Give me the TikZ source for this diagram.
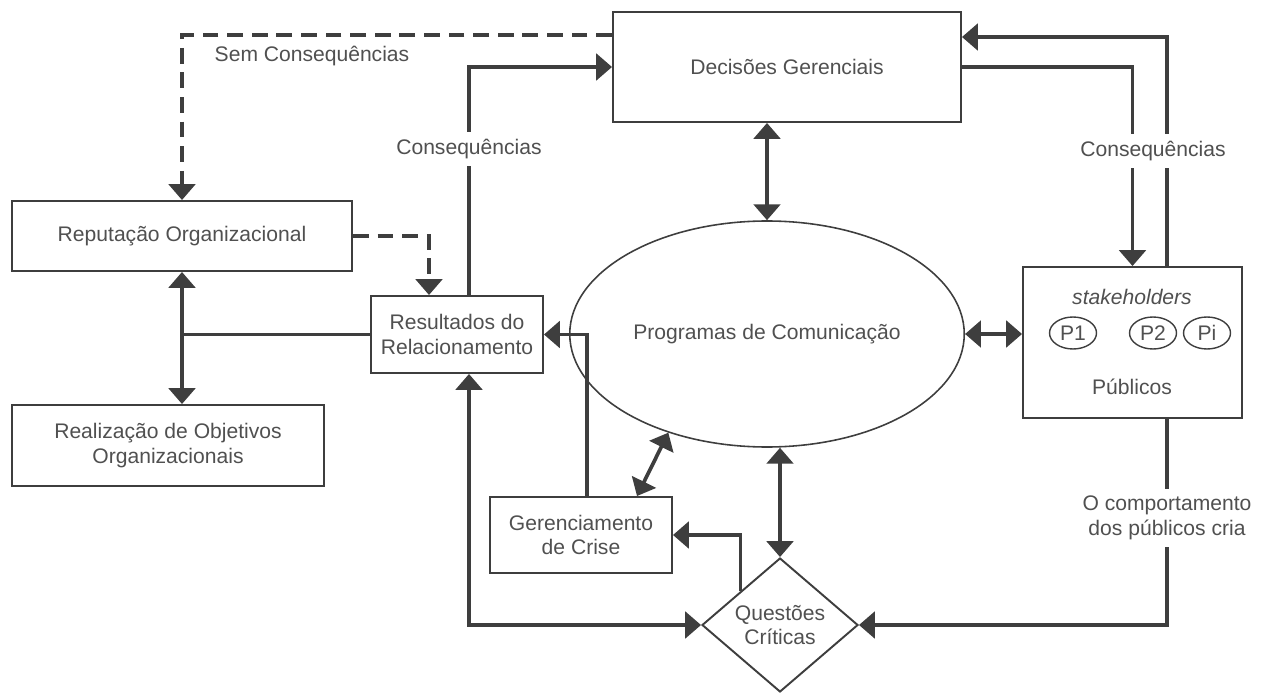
\documentclass[tikz,border=0pt]{standalone}
\usepackage{fontspec}
\setmainfont{Liberation Sans}
\usetikzlibrary{arrows.meta,positioning,calc,shapes.geometric}
\definecolor{Ink}{HTML}{3E3E3E}
\definecolor{Label}{HTML}{505050}

\begin{document}
\begin{tikzpicture}[font=\fontsize{12}{14}\selectfont, text=Label,
    box/.style={draw=Ink,line width=1.1pt,align=center,inner sep=2pt},
    pill/.style={draw=Ink,ellipse,line width=0.8pt,minimum width=0.94cm,minimum height=0.64cm,inner sep=0pt},
    link/.style={draw=Ink,line width=2.1pt},
    flow/.style={link,-{Triangle[width=15pt,length=9pt]}},
    twoway/.style={link,{Triangle[width=15pt,length=9pt]}-{Triangle[width=15pt,length=9pt]}},
    dashflow/.style={draw=Ink,line width=2pt,dash pattern=on 9pt off 5pt,-{Triangle[width=15pt,length=9pt]}},
    cut/.style={fill=white,inner sep=4pt,align=center}]

    \useasboundingbox (0,0) rectangle (25.26,-13.86);

    % boxes
    \node[box,minimum width=6.96cm,minimum height=2.20cm] (dec) at (15.74,-1.34) {Decisões Gerenciais};
    \node[box,minimum width=6.80cm,minimum height=1.40cm] (rep) at (3.64,-4.72) {Reputação Organizacional};
    \node[box,minimum width=6.24cm,minimum height=1.62cm] (real) at (3.36,-8.91) {Realização de Objetivos\\Organizacionais};
    \node[box,minimum width=3.44cm,minimum height=1.54cm] (res) at (9.14,-6.69) {Resultados do\\Relacionamento};
    \node[box,minimum width=3.64cm,minimum height=1.52cm] (ger) at (11.62,-10.70) {Gerenciamento\\de Crise};
    \node[draw=Ink,ellipse,line width=0.9pt,minimum width=6.74cm,minimum height=4.52cm] (prog) at (15.34,-6.68) {Programas de Comunicação};
    \node[draw=Ink,diamond,line width=1.1pt,align=center,inner sep=0pt,aspect=1.16,minimum width=3.12cm,minimum height=2.68cm] (qc) at (15.60,-12.50) {Questões\\Críticas};

    % publics
    \node[box,minimum width=4.38cm,minimum height=3.02cm] (pub) at (22.65,-6.85) {};
    \node (stake) at (22.64,-5.94) {\itshape stakeholders};
    \node[pill] (p1) at (21.46,-6.66) {P1};
    \node[pill] (p2) at (23.06,-6.66) {P2};
    \node[pill] (pi) at (24.14,-6.66) {Pi};
    \node (publ) at (22.64,-7.74) {Públicos};

    % dashed links
    \draw[dashflow] ([yshift=0.64cm]dec.west) -| (rep.north);
    \node (semcons) at (6.24,-1.12) {Sem Consequências};
    \draw[dashflow] (rep.east) -| ([xshift=-0.56cm]res.north);

    % top loop
    \draw[flow] ([xshift=0.24cm]res.north) |- node[cut,pos=0.32] (cons1) {Consequências} (dec.west);
    \draw[flow] (dec.east) -| (pub.north);
    \draw[flow] ([xshift=0.69cm]pub.north) |- ([yshift=0.60cm]dec.east);
    \node[cut] (cons2) at (23.06,-3.02) {Consequências};

    % around the ellipse
    \draw[twoway] (prog.north) -- (prog.north |- dec.south);
    \draw[twoway] (prog.east) -- (prog.east -| pub.west);
    \draw[twoway] ([xshift=1.12cm]ger.north) -- (prog.225);
    \draw[twoway] (qc.north) -- (qc.north |- prog.south);

    % results to reputation and objectives
    \coordinate (split) at (rep.south |- res.west);
    \draw[link] (res.west) -- (split);
    \draw[flow] (split) -- (rep.south);
    \draw[flow] (split) -- (split |- real.north);

    % bottom
    \draw[flow] ([xshift=0.12cm]ger.north) |- (res.east);
    \draw[flow] (qc.north west) |- (ger.east);
    \draw[twoway] ([xshift=0.24cm]res.south) |- (qc.west);
    \draw[flow] ([xshift=0.69cm]pub.south) |- node[cut,pos=0.24] (behav) {O comportamento\\dos públicos cria} (qc.east);
\end{tikzpicture}
\end{document}
